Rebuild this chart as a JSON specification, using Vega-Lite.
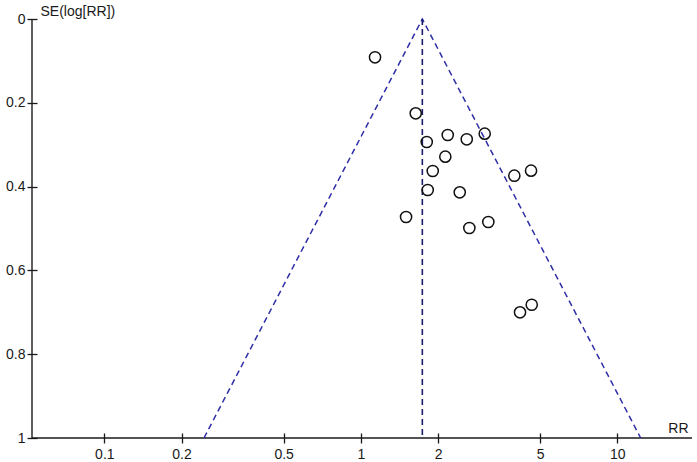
{
  "$schema": "https://vega.github.io/schema/vega-lite/v6.json",
  "width": 660,
  "height": 419,
  "autosize": {"type": "none"},
  "padding": {"left": 32, "top": 19, "right": 5, "bottom": 24},
  "background": "white",
  "config": {
    "view": {"stroke": null},
    "font": "Liberation Sans",
    "axis": {
      "labelFont": "Liberation Sans",
      "labelFontSize": 14,
      "labelColor": "#1a1a1a",
      "titleFont": "Liberation Sans",
      "titleFontSize": 14,
      "titleFontWeight": "normal",
      "titleColor": "#1a1a1a",
      "tickColor": "#1a1a1a",
      "tickWidth": 1.3,
      "grid": false,
      "domain": false
    }
  },
  "datasets": {
    "studies": [
      {"rr": 1.136, "se": 0.0914},
      {"rr": 1.637, "se": 0.2251},
      {"rr": 1.807, "se": 0.2936},
      {"rr": 2.182, "se": 0.2768},
      {"rr": 2.588, "se": 0.2871},
      {"rr": 3.041, "se": 0.2737},
      {"rr": 2.135, "se": 0.3286},
      {"rr": 1.907, "se": 0.3628},
      {"rr": 3.967, "se": 0.374},
      {"rr": 4.609, "se": 0.362},
      {"rr": 1.823, "se": 0.4081},
      {"rr": 2.43, "se": 0.4136},
      {"rr": 1.501, "se": 0.4726},
      {"rr": 2.649, "se": 0.4988},
      {"rr": 3.141, "se": 0.4845},
      {"rr": 4.175, "se": 0.7},
      {"rr": 4.638, "se": 0.6819}
    ],
    "funnel": [
      {"rr": 0.2447, "se": 1, "k": 1},
      {"rr": 1.737, "se": 0, "k": 2},
      {"rr": 12.33, "se": 1, "k": 3}
    ],
    "pooled": [
      {"rr": 1.737, "se0": 0, "se1": 1}
    ],
    "frame": [
      {"xmin": 0.05224, "ymax": 1}
    ]
  },
  "layer": [
    {
      "data": {"name": "frame"},
      "mark": {"type": "rule", "color": "#1a1a1a", "strokeWidth": 1.4},
      "encoding": {"y": {"field": "ymax", "type": "quantitative", "scale": {"domain": [0, 1], "reverse": true, "nice": false, "zero": false}}}
    },
    {
      "data": {"name": "frame"},
      "mark": {"type": "rule", "color": "#1a1a1a", "strokeWidth": 1.4},
      "encoding": {"x": {"field": "xmin", "type": "quantitative", "scale": {"type": "log", "domain": [0.05224, 19.55], "nice": false}}}
    },
    {
      "data": {"name": "funnel"},
      "mark": {"type": "line", "color": "#2e2ea6", "strokeWidth": 1.5, "strokeDash": [6, 4]},
      "encoding": {
        "x": {"field": "rr", "type": "quantitative", "scale": {"type": "log", "domain": [0.05224, 19.55], "nice": false}},
        "y": {"field": "se", "type": "quantitative", "scale": {"domain": [0, 1], "reverse": true, "nice": false}},
        "order": {"field": "k"}
      }
    },
    {
      "data": {"name": "pooled"},
      "mark": {"type": "rule", "color": "#1c1c6e", "strokeWidth": 1.6, "strokeDash": [6, 4]},
      "encoding": {
        "x": {"field": "rr", "type": "quantitative"},
        "y": {"field": "se0", "type": "quantitative"},
        "y2": {"field": "se1"}
      }
    },
    {
      "data": {"name": "studies"},
      "mark": {"type": "point", "shape": "circle", "filled": false, "size": 125, "stroke": "#111111", "strokeWidth": 1.5, "opacity": 1},
      "encoding": {
        "x": {
          "field": "rr",
          "type": "quantitative",
          "scale": {"type": "log", "domain": [0.05224, 19.55], "nice": false},
          "axis": {
            "values": [0.1, 0.2, 0.5, 1, 2, 5, 10],
            "format": "~g",
            "offset": -5,
            "tickSize": 10,
            "labelPadding": 4,
            "title": "RR",
            "titleAngle": 0,
            "titleAlign": "right",
            "titleBaseline": "alphabetic",
            "titleX": 656,
            "titleY": -1
          }
        },
        "y": {
          "field": "se",
          "type": "quantitative",
          "scale": {"domain": [0, 1], "reverse": true, "nice": false},
          "axis": {
            "values": [0, 0.2, 0.4, 0.6, 0.8, 1],
            "format": "~g",
            "offset": -5,
            "tickSize": 10,
            "labelPadding": 2,
            "title": "SE(log[RR])",
            "titleAngle": 0,
            "titleAlign": "left",
            "titleBaseline": "alphabetic",
            "titleX": 3,
            "titleY": -3.5
          }
        }
      }
    }
  ]
}
